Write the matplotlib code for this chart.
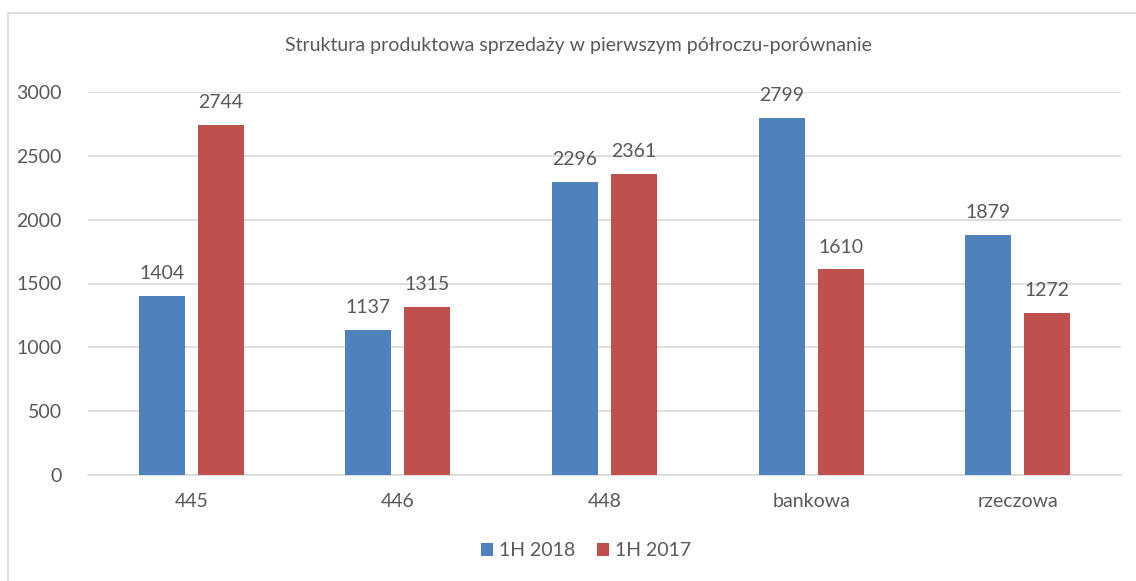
import matplotlib
matplotlib.use("Agg")
import matplotlib.pyplot as plt
from matplotlib.patches import Rectangle
import numpy as np

categories = ["445", "446", "448", "bankowa", "rzeczowa"]
series_names = ["1H 2018", "1H 2017"]
values_2018 = [1404, 1137, 2296, 2799, 1879]
values_2017 = [2744, 1315, 2361, 1610, 1272]
title = "Struktura produktowa sprzedaży w pierwszym półroczu-porównanie"

colors = ["#4f81bd", "#c0504d"]
txt = "#595959"
grid = "#d9d9d9"

plt.rcParams['font.family'] = ['Lato', 'DejaVu Sans']

W, H = 1136, 581
fig = plt.figure(figsize=(W / 100, H / 100), dpi=100)
# outer chart border (cropped at right and bottom)
fig.patches.append(Rectangle((8 / W, -0.1), 1.2, 1 - 13 / H + 0.1,
                             transform=fig.transFigure, fill=False,
                             edgecolor=grid, linewidth=1.2))

ax = fig.add_axes([88 / W, 1 - 475 / H, (1121 - 88) / W, (475 - 92) / H])
x = np.arange(len(categories))
bw = 0.223
off = 0.143
b1 = ax.bar(x - off, values_2018, bw, color=colors[0], label=series_names[0], zorder=3)
b2 = ax.bar(x + off, values_2017, bw, color=colors[1], label=series_names[1], zorder=3)

for bars, vals in ((b1, values_2018), (b2, values_2017)):
    for r, v in zip(bars, vals):
        ax.annotate(str(v), (r.get_x() + r.get_width() / 2, v), xytext=(0, 10),
                    textcoords="offset points", ha="center", va="bottom",
                    fontsize=14, color=txt)

ax.set_xlim(-0.5, len(categories) - 0.5)
ax.set_ylim(0, 3000)
ax.set_yticks(range(0, 3001, 500))
ax.set_xticks(x)
ax.set_xticklabels(categories)
ax.yaxis.grid(True, color=grid, linewidth=1.2, zorder=0)
ax.set_axisbelow(True)
for s in ["top", "right", "left"]:
    ax.spines[s].set_visible(False)
ax.spines["bottom"].set_color(grid)
ax.spines["bottom"].set_linewidth(1.2)
ax.tick_params(axis="both", length=0, labelsize=14, labelcolor=txt)
ax.tick_params(axis="y", pad=19)
ax.tick_params(axis="x", pad=13)

fig.text(578 / W, 1 - 46 / H, title, ha="center", va="center", fontsize=14, color=txt)

fig.legend(handles=[b1, b2], labels=series_names, loc="center",
           bbox_to_anchor=(586 / W, 1 - 551 / H), ncol=2, frameon=False,
           fontsize=14, labelcolor=txt, handlelength=0.65, handleheight=0.65,
           handletextpad=0.3, columnspacing=1.1)

fig.savefig("out.png", dpi=100)
